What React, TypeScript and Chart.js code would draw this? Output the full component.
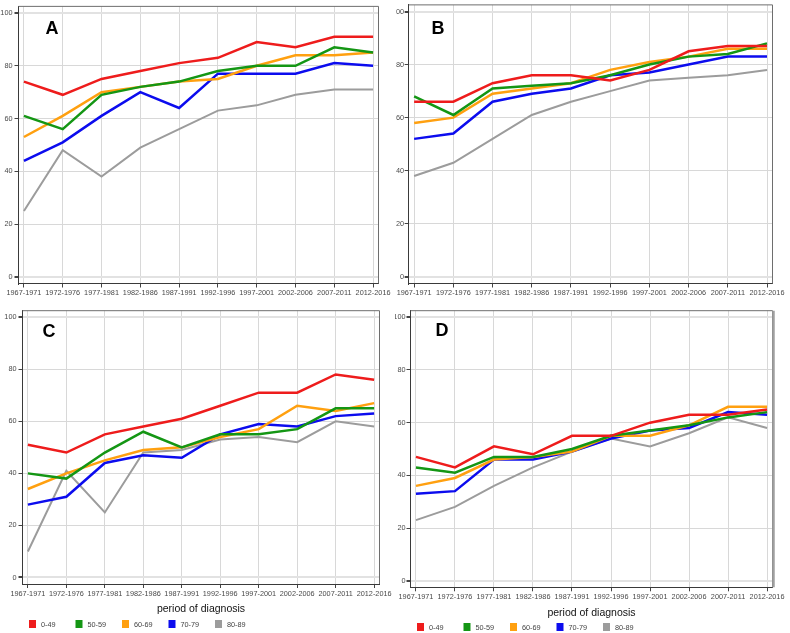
import React, { useEffect, useRef } from "react";
import { Chart, registerables } from "chart.js";
Chart.register(...registerables);

const periods = ["1967-1971", "1972-1976", "1977-1981", "1982-1986", "1987-1991", "1992-1996", "1997-2001", "2002-2006", "2007-2011", "2012-2016"];
const ageGroups = ["0-49", "50-59", "60-69", "70-79", "80-89"];
const groupColors = ["#ee1c1c", "#149614", "#ffa010", "#0c0cee", "#9c9c9c"];
const yTicks = [0, 20, 40, 60, 80, 100];
const xAxisTitle = "period of diagnosis";

// values per age group, in ageGroups order
const panelA = [
  [74, 69, 75, 78, 81, 83, 89, 87, 91, 91],
  [61, 56, 69, 72, 74, 78, 80, 80, 87, 85],
  [53, 61, 70, 72, 74, 75, 80, 84, 84, 85],
  [44, 51, 61, 70, 64, 77, 77, 77, 81, 80],
  [25, 48, 38, 49, 56, 63, 65, 69, 71, 71],
];
const panelB = [
  [66, 66, 73, 76, 76, 74, 78, 85, 87, 87],
  [68, 61, 71, 72, 73, 76, 80, 83, 84, 88],
  [58, 60, 69, 71, 73, 78, 81, 83, 86, 86],
  [52, 54, 66, 69, 71, 76, 77, 80, 83, 83],
  [38, 43, 52, 61, 66, 70, 74, 75, 76, 78],
];
const panelC = [
  [51, 48, 55, 58, 61, 66, 71, 71, 78, 76],
  [40, 38, 48, 56, 50, 55, 55, 57, 65, 65],
  [34, 40, 45, 49, 50, 54, 57, 66, 64, 67],
  [28, 31, 44, 47, 46, 55, 59, 58, 62, 63],
  [10, 41, 25, 48, 49, 53, 54, 52, 60, 58],
];
const panelD = [
  [47, 43, 51, 48, 55, 55, 60, 63, 63, 65],
  [43, 41, 47, 47, 50, 55, 57, 59, 62, 64],
  [36, 39, 46, 47, 49, 55, 55, 59, 66, 66],
  [33, 34, 46, 46, 49, 54, 57, 58, 64, 63],
  [23, 28, 36, 43, 49, 54, 51, 56, 62, 58],
];

const TICK_FONT = { family: "'Liberation Sans', Arial, sans-serif", size: 7.3 };

type PanelCfg = {
  letter: string;
  data: number[][];
  left: number; top: number; w: number; h: number;
  area: { l: number; r: number; t: number; b: number };
  letterPos: [number, number];
  legend: boolean;
  legendX?: number;
  legendY?: number;
  titlePad?: number;
  thickRight?: boolean;
  yPad: number;
};

const panels: PanelCfg[] = [
  { letter: "A", data: panelA, left: 0, top: 0, w: 395, h: 300, area: { l: 18.5, r: 378.5, t: 2.5, b: 283.5 }, letterPos: [52, 29], legend: false, yPad: 2 },
  { letter: "B", data: panelB, left: 395, top: 0, w: 395, h: 300, area: { l: 12.5, r: 377.5, t: 2.5, b: 283.5 }, letterPos: [43, 29], legend: false, yPad: 0.5 },
  { letter: "C", data: panelC, left: 0, top: 300, w: 395, h: 333, area: { l: 22.5, r: 379.5, t: 10.7, b: 284 }, letterPos: [49, 32], legend: true, legendX: 29, legendY: 320, titlePad: 18, yPad: 2 },
  { letter: "D", data: panelD, left: 395, top: 300, w: 395, h: 333, area: { l: 15.5, r: 377.5, t: 10.7, b: 287.3 }, letterPos: [47, 31], legend: true, legendX: 22, legendY: 323, titlePad: 14, thickRight: true, yPad: 1 },
];

function makeDecor(p: PanelCfg) {
  return {
    id: "decor" + p.letter,
    afterDraw(chart: any) {
      const { ctx, chartArea: a } = chart;
      ctx.save();
      ctx.strokeStyle = "#6e6e6e";
      ctx.lineWidth = 1;
      ctx.beginPath();
      ctx.moveTo(a.left, a.top);
      ctx.lineTo(a.right, a.top);
      ctx.lineTo(a.right, a.bottom);
      ctx.stroke();
      if (p.thickRight) {
        ctx.strokeStyle = "#a0a0a0";
        ctx.lineWidth = 2.5;
        ctx.beginPath();
        ctx.moveTo(a.right + 1, a.top);
        ctx.lineTo(a.right + 1, a.bottom);
        ctx.stroke();
      }
      ctx.fillStyle = "#000";
      ctx.font = "bold 18px 'Liberation Sans', Arial, sans-serif";
      ctx.textAlign = "center";
      ctx.textBaseline = "middle";
      ctx.fillText(p.letter, p.letterPos[0], p.letterPos[1]);
      if (p.legend) {
        ctx.font = "7.3px 'Liberation Sans', Arial, sans-serif";
        ctx.textAlign = "left";
        ctx.textBaseline = "middle";
        const step = 46.5;
        ageGroups.forEach((g, i) => {
          const x = (p.legendX as number) + i * step;
          const y = p.legendY as number;
          ctx.fillStyle = groupColors[i];
          ctx.fillRect(x, y, 7, 8);
          ctx.fillStyle = "#444";
          ctx.fillText(g, x + 12, y + 4.5);
        });
      }
      ctx.restore();
    },
  };
}

function Panel({ p }: { p: PanelCfg }) {
  const ref = useRef<HTMLCanvasElement | null>(null);
  useEffect(() => {
    const canvas = ref.current;
    if (!canvas) return;
    const a = p.area;
    const chart = new Chart(canvas, {
      type: "line",
      data: {
        datasets: ageGroups.map((g, i) => ({
          label: g,
          data: p.data[i].map((v, j) => ({ x: j, y: v })),
          borderColor: groupColors[i],
          backgroundColor: groupColors[i],
          borderWidth: i === 4 ? 2 : 2.5,
          pointRadius: 0,
          tension: 0,
          fill: false,
        })),
      },
      options: {
        responsive: false,
        animation: false,
        events: [],
        layout: { padding: { left: 0, top: a.t, right: p.w - a.r, bottom: 0 } },
        plugins: { legend: { display: false }, tooltip: { enabled: false }, title: { display: false } },
        scales: {
          x: {
            type: "linear",
            min: -0.14,
            max: 9.14,
            afterFit: (s: any) => { s.height = p.h - a.b; },
            afterBuildTicks: (s: any) => { s.ticks = periods.map((_, i) => ({ value: i })); },
            ticks: {
              autoSkip: false,
              maxRotation: 0,
              minRotation: 0,
              padding: 1.5,
              color: "#4a4a4a",
              font: TICK_FONT,
              callback: (v: any) => periods[Math.round(Number(v))] ?? "",
            },
            grid: { color: "#d8d8d8", lineWidth: 1, tickLength: 4, tickColor: "#444" },
            border: { display: true, color: "#3a3a3a", width: 1 },
            title: p.legend
              ? {
                  display: true,
                  text: xAxisTitle,
                  color: "#111",
                  font: { family: "'Liberation Sans', Arial, sans-serif", size: 10.5 },
                  padding: { top: 0, bottom: p.titlePad ?? 0 },
                }
              : { display: false },
          },
          y: {
            type: "linear",
            min: -2.5,
            max: 102.5,
            afterFit: (s: any) => { s.width = a.l; },
            afterBuildTicks: (s: any) => { s.ticks = yTicks.map((v) => ({ value: v })); },
            ticks: { padding: p.yPad, color: "#4a4a4a", font: TICK_FONT },
            grid: {
              color: (c: any) => (c.tick && (c.tick.value === 0 || c.tick.value === 100) ? "#e2e2e2" : "#d8d8d8"),
              lineWidth: (c: any) => (c.tick && (c.tick.value === 0 || c.tick.value === 100) ? 2 : 1),
              tickLength: 4,
              tickColor: "#444",
            },
            border: { display: true, color: "#3a3a3a", width: 1 },
          },
        },
      },
      plugins: [makeDecor(p)],
    } as any);
    return () => chart.destroy();
  }, [p]);
  return (
    <canvas
      ref={ref}
      width={p.w}
      height={p.h}
      style={{ position: "absolute", left: p.left, top: p.top, width: p.w, height: p.h }}
    />
  );
}

export default function App() {
  return (
    <div style={{ position: "absolute", left: 0, top: 0, width: 790, height: 633, background: "#fff", overflow: "hidden" }}>
      {panels.map((p) => (
        <Panel key={p.letter} p={p} />
      ))}
    </div>
  );
}
